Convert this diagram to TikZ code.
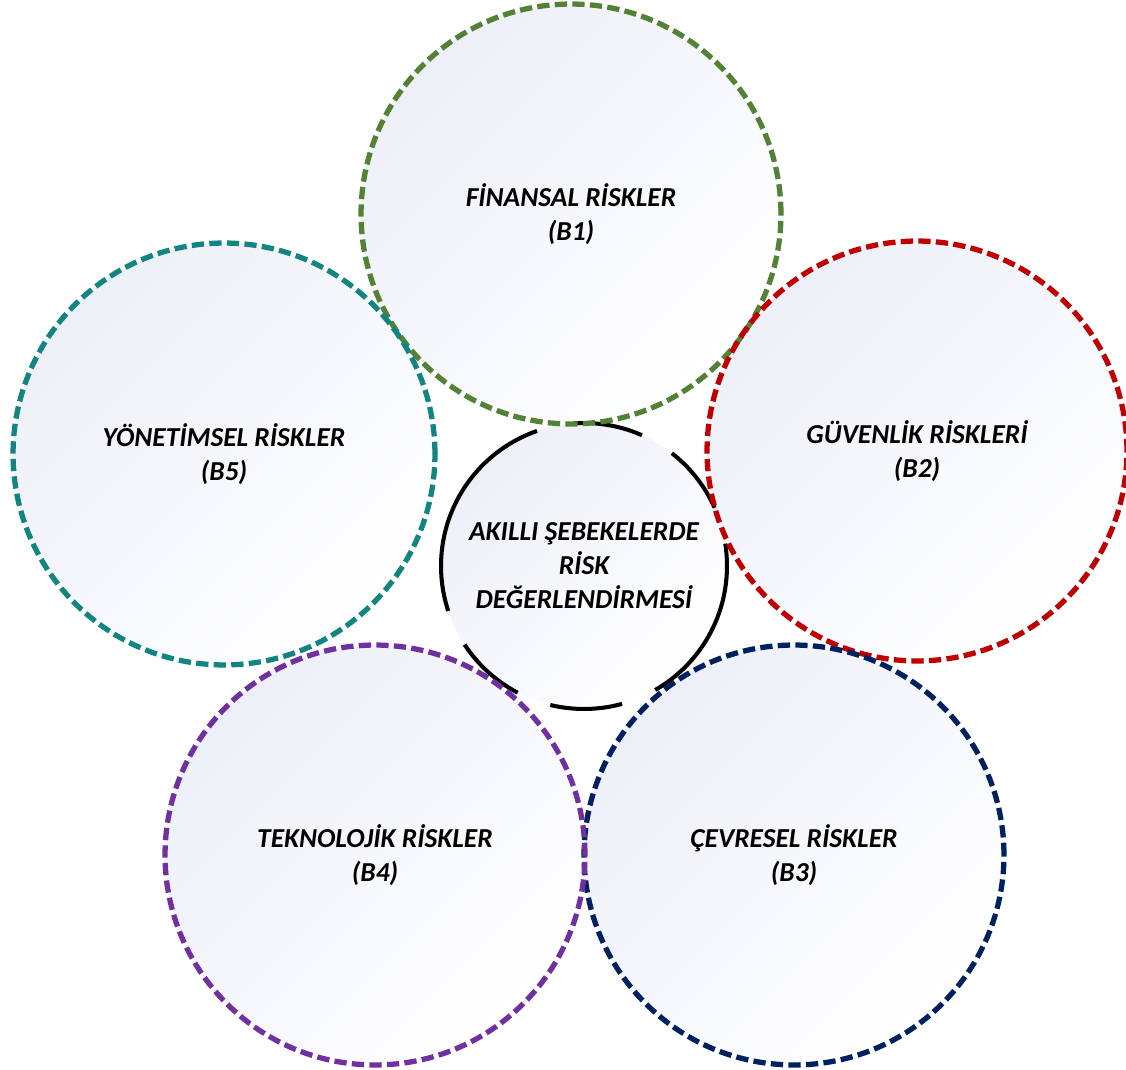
\documentclass[tikz,border=0pt]{standalone}
\usepackage{fontspec}
\setmainfont{Carlito}

\definecolor{vert}{HTML}{538135}
\definecolor{rouge}{HTML}{C00000}
\definecolor{marine}{HTML}{002060}
\definecolor{pourpre}{HTML}{7030A0}
\definecolor{canard}{HTML}{138580}
\definecolor{fond}{HTML}{EDF0F8}

\begin{document}
\begin{tikzpicture}[x=0.02cm,y=-0.02cm,
  every node/.style={font=\fontsize{15.6}{19.4}\selectfont\bfseries\itshape,align=center},
  risque/.style={circle,minimum size=8.4cm,inner sep=0pt,line width=3pt,dash pattern=on 7pt off 3pt},
  centre/.style={circle,minimum size=5.72cm,inner sep=0pt,line width=2.3pt,draw=black,
    dash pattern=on 0.45cm off 0.75cm on 1.4cm off 0.7cm on 1.4cm off 0.75cm on 4.45cm off 0.75cm on 1.45cm off 0.7cm on 1.45cm off 0.72cm on 3.02cm}]

\useasboundingbox (0,0) rectangle (1126,1070); % cadre de l'image

% fonds degrades des cercles
\foreach \x/\y/\r in {571/214/210, 917/451/210, 794/855/210, 375/855/210, 224/454/211, 584/566/143}
  \shade[top color=fond,bottom color=white,shading angle=45] (\x,\y) circle (\r);

\node[centre] (c) at (584,566) {AKILLI ŞEBEKELERDE\\RİSK\\DEĞERLENDİRMESİ};

\node[risque,draw=vert] (b1) at (571,214) {FİNANSAL RİSKLER\\(B1)};
\node[risque,draw=rouge] (b2) at (917,451) {GÜVENLİK RİSKLERİ\\(B2)};
\node[risque,draw=marine] (b3) at (794,855) {ÇEVRESEL RİSKLER\\(B3)};
\node[risque,draw=pourpre] (b4) at (375,855) {TEKNOLOJİK RİSKLER\\(B4)};
\node[risque,draw=canard,minimum size=8.44cm] (b5) at (224,454) {YÖNETİMSEL RİSKLER\\(B5)};

\end{tikzpicture}
\end{document}
